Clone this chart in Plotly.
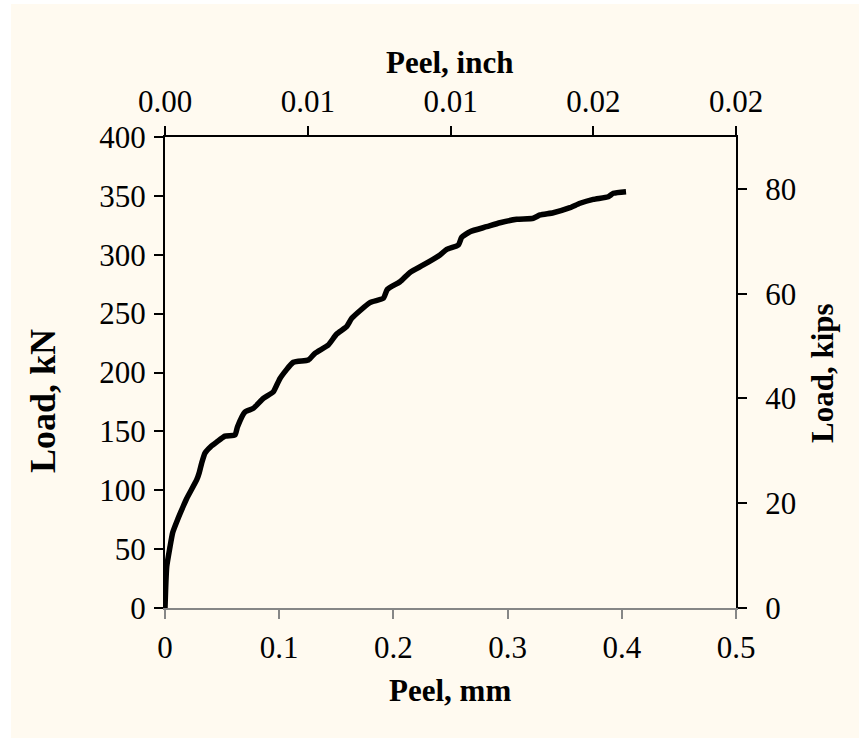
import plotly.graph_objects as go

# Data
peel_mm = [0, 0.0005, 0.0015, 0.0044, 0.0067, 0.011, 0.0158, 0.019, 0.0278, 0.030,
           0.0321, 0.035, 0.040, 0.0453, 0.0525, 0.0613, 0.0635, 0.0700, 0.0774, 0.0861,
           0.0949, 0.1007, 0.1124, 0.1255, 0.1313, 0.143, 0.1503, 0.159, 0.1635, 0.1795,
           0.1912, 0.1947, 0.2058, 0.2145, 0.2262, 0.2408, 0.2467, 0.2569, 0.2598, 0.2671,
           0.2817, 0.2933, 0.308, 0.3225, 0.3284, 0.34, 0.3546, 0.3634, 0.375, 0.3882,
           0.3926, 0.4037]
load_kN = [0, 15, 35, 52, 64, 75, 86, 93, 109, 115,
           123, 131.6, 137, 141, 146, 147, 154, 166.5, 169.6, 178,
           183.7, 195, 208.7, 210.6, 216.3, 223.4, 232.7, 239, 246, 259.3,
           263, 270.6, 277.1, 285, 291.3, 299.8, 304.6, 308.3, 314.8, 319.6,
           323.8, 327.2, 330.1, 331, 333.8, 335.7, 340, 343.7, 347, 349.3,
           352.2, 353.6]

mm_ticks = [0, 0.1, 0.2, 0.3, 0.4, 0.5]
mm_labels = ["0", "0.1", "0.2", "0.3", "0.4", "0.5"]
inch_ticks = [0, 0.005, 0.01, 0.015, 0.02]
inch_labels = ["0.00", "0.01", "0.01", "0.02", "0.02"]
kn_ticks = [0, 50, 100, 150, 200, 250, 300, 350, 400]
kips_ticks = [0, 20, 40, 60, 80]

KN_TO_KIPS = 0.224809
MM_TO_IN = 1 / 25.4

FONT = "Liberation Serif"
BG = "#FFFAF0"
W, H = 859, 738
ML, MR, MT, MB = 165, 123, 137, 130
PW, PH = W - ML - MR, H - MT - MB


def px(x):
    return (x - ML) / PW


def py(y):
    return (H - MB - y) / PH


fig = go.Figure()
fig.add_trace(go.Scatter(x=peel_mm, y=load_kN, mode="lines",
                         line=dict(color="black", width=5.5, shape="spline", smoothing=0.5),
                         showlegend=False, hoverinfo="skip"))
fig.add_trace(go.Scatter(x=[v * MM_TO_IN for v in peel_mm],
                         y=[v * KN_TO_KIPS for v in load_kN],
                         xaxis="x2", yaxis="y2", mode="lines",
                         line=dict(color="black", width=5), opacity=0,
                         showlegend=False, hoverinfo="skip"))

tickfont = dict(family=FONT, size=31, color="black")
common = dict(showgrid=False, zeroline=False, ticks="outside", ticklen=9,
              tickwidth=2, showline=True, linewidth=2, tickfont=tickfont)

fig.update_layout(
    width=W, height=H,
    margin=dict(l=ML, r=MR, t=MT, b=MB),
    paper_bgcolor=BG, plot_bgcolor=BG,
    xaxis=dict(range=[0, 0.5], tickvals=mm_ticks, ticktext=mm_labels,
               linecolor="#868686", tickcolor="#868686", ticklabelstandoff=2, **common),
    xaxis2=dict(range=[0, 0.02], tickvals=inch_ticks, ticktext=inch_labels,
                overlaying="x", side="top", anchor="y",
                linecolor="black", tickcolor="black", ticklabelstandoff=2, **common),
    yaxis=dict(range=[0, 400], tickvals=kn_ticks,
               linecolor="black", tickcolor="black", ticklabelstandoff=2, **common),
    yaxis2=dict(range=[0, 400 * KN_TO_KIPS], tickvals=kips_ticks,
                overlaying="y", side="right", anchor="x",
                linecolor="black", tickcolor="black", ticklabelstandoff=12, **common),
    showlegend=False,
)

title_font = dict(family=FONT, size=31, color="black")
ann = dict(xref="paper", yref="paper", showarrow=False,
           xanchor="center", yanchor="middle")
fig.add_annotation(text="<b>Load, kN</b>", x=px(43), y=py(401), textangle=-90,
                   font=dict(family=FONT, size=36, color="black"), **ann)
fig.add_annotation(text="<b>Load, kips</b>", x=px(822), y=py(373), textangle=-90,
                   font=title_font, **ann)
fig.add_annotation(text="<b>Peel, inch</b>", x=px(449), y=py(62), font=title_font, **ann)
fig.add_annotation(text="<b>Peel, mm</b>", x=px(450), y=py(690), font=title_font, **ann)

# white page strips at the left and top edges
fig.add_shape(type="rect", xref="paper", yref="paper", x0=px(0), x1=px(11),
              y0=py(H), y1=py(0), fillcolor="white", line_width=0, layer="below")
fig.add_shape(type="rect", xref="paper", yref="paper", x0=px(0), x1=px(W),
              y0=py(4), y1=py(0), fillcolor="white", line_width=0, layer="below")

fig.write_html("out.html")
